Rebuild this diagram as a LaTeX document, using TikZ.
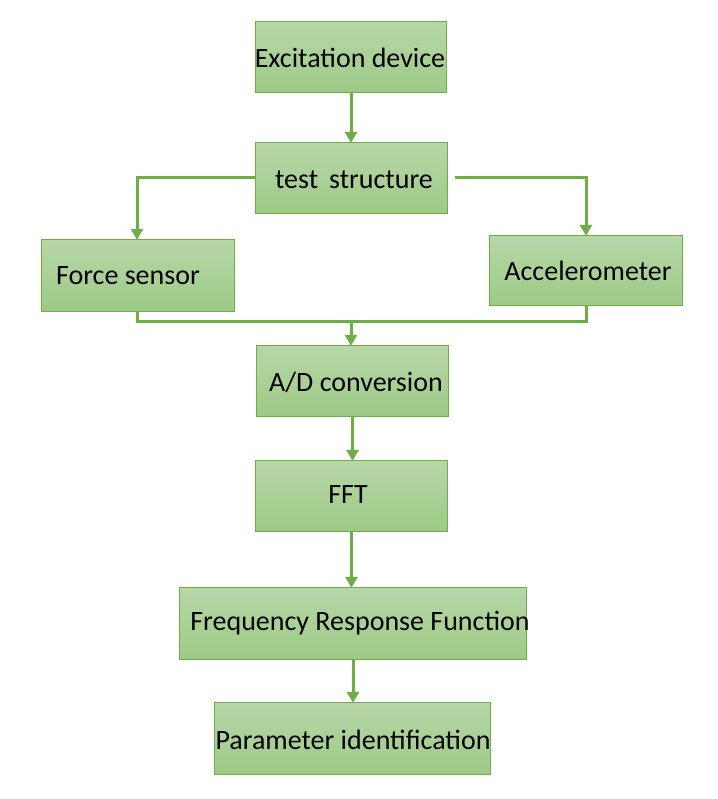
\documentclass[tikz,border=0pt]{standalone}
\usepackage{fontspec}
\setmainfont{Carlito}
\usetikzlibrary{arrows.meta}
\definecolor{gborder}{HTML}{70AD47}
\definecolor{gtop}{HTML}{B7D7A8}
\definecolor{gbot}{HTML}{9DCA85}
\tikzset{
  box/.style={draw=gborder, line width=1.2bp, top color=gtop, bottom color=gbot},
  lbl/.style={font=\fontsize{28bp}{32bp}\selectfont, inner sep=0pt, text=black},
  conn/.style={draw=gborder, line width=3bp, -{Triangle[length=11bp,width=12bp]}},
  plain/.style={draw=gborder, line width=3bp}
}
\begin{document}
\begin{tikzpicture}[x=1bp,y=-1bp]
\useasboundingbox (0,0) rectangle (718,799);
\node[minimum width=190bp, minimum height=70bp, inner sep=0pt] (ex) at (351,57) {};
\node[minimum width=191bp, minimum height=70bp, inner sep=0pt] (ts) at (351.5,178) {};
\node[minimum width=192bp, minimum height=71bp, inner sep=0pt] (fs) at (138,275.5) {};
\node[minimum width=192bp, minimum height=69bp, inner sep=0pt] (acc) at (586,270.5) {};
\node[minimum width=191bp, minimum height=70bp, inner sep=0pt] (ad) at (352.5,381) {};
\node[minimum width=191bp, minimum height=70bp, inner sep=0pt] (fft) at (351.5,496) {};
\node[minimum width=346bp, minimum height=71bp, inner sep=0pt] (frf) at (353,623.5) {};
\node[minimum width=275bp, minimum height=71bp, inner sep=0pt] (pid) at (352.5,738.5) {};
\foreach \n in {ex,ts,fs,acc,ad,fft,frf,pid}{
  \path[box] (\n.north west) rectangle (\n.south east);
}
\node[lbl] (tex) at (350,58) {Excitation device};
\node[lbl] (tts) at (354,180) {test\, structure};
\node[lbl] (tfs) at (128,276) {Force sensor};
\node[lbl] (tacc) at (588,271) {Accelerometer};
\node[lbl] (tad) at (356,382) {A/D conversion};
\node[lbl] (tfft) at (348,495) {FFT};
\node[lbl] (tfrf) at (360,623) {Frequency Response Function};
\node[lbl] (tpid) at (353,740) {Parameter identification};
% connectors
\draw[conn] (ex.south) -- (ex.south |- ts.north);
\draw[conn] (ts.west |- 0,177) -| (fs.north -| 137,0);
\coordinate (tsr) at (455,177);
\draw[conn] (tsr) -| (acc.north);
\coordinate (join) at (351,321);
\draw[plain] (fs.south -| 137,0) |- (join) -| (acc.south);
\draw[conn] (join) -- (join |- ad.north);
\draw[conn] (ad.south) -- (fft.north -| ad.south);
\draw[conn] (fft.south) -- (frf.north -| fft.south);
\draw[conn] (frf.south) -- (pid.north -| frf.south);
\end{tikzpicture}
\end{document}
